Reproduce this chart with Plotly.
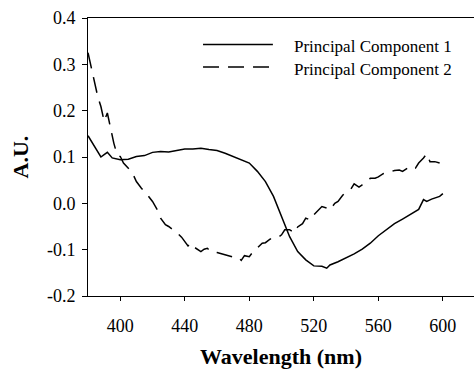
import plotly.graph_objects as go

# Principal Component 1 (solid)
pc1_wl = [380, 385, 388, 390, 392, 395, 400, 405, 410, 415, 420, 425, 430, 435, 440,
          445, 450, 455, 460, 465, 470, 475, 480, 485, 490, 495, 500, 503, 505, 510,
          515, 520, 525, 528, 530, 535, 540, 545, 550, 555, 560, 565, 570, 575, 580,
          585, 588, 590, 593, 595, 598, 600]
pc1_val = [0.146, 0.116, 0.100, 0.105, 0.110, 0.098, 0.094, 0.095, 0.101, 0.103, 0.110,
           0.112, 0.111, 0.114, 0.117, 0.117, 0.119, 0.116, 0.114, 0.108, 0.101, 0.095,
           0.087, 0.069, 0.047, 0.015, -0.028, -0.057, -0.072, -0.104, -0.122, -0.135,
           -0.136, -0.140, -0.133, -0.126, -0.118, -0.109, -0.099, -0.086, -0.070, -0.056,
           -0.044, -0.034, -0.023, -0.013, 0.008, 0.004, 0.009, 0.011, 0.015, 0.021]

# Principal Component 2 (dashed)
pc2_wl = [380, 383, 386, 388, 390, 392, 394, 396, 398, 400, 402, 405, 408, 410, 413,
          416, 420, 423, 425, 428, 430, 433, 435, 438, 440, 442, 444, 446, 450, 452,
          454, 456, 460, 465, 470, 473, 475, 477, 480, 482, 485, 488, 490, 493, 495,
          498, 500, 502, 505, 508, 510, 513, 515, 518, 520, 523, 525, 528, 530, 533,
          535, 538, 540, 543, 545, 548, 550, 553, 555, 558, 560, 563, 565, 568, 570,
          573, 575, 578, 580, 583, 585, 588, 590, 592, 595, 598]
pc2_val = [0.325, 0.274, 0.231, 0.209, 0.177, 0.195, 0.159, 0.130, 0.105, 0.101, 0.087,
           0.076, 0.062, 0.047, 0.033, 0.022, 0.004, -0.014, -0.032, -0.046, -0.050,
           -0.057, -0.063, -0.073, -0.082, -0.092, -0.086, -0.095, -0.104, -0.099,
           -0.097, -0.104, -0.106, -0.111, -0.116, -0.116, -0.123, -0.113, -0.115,
           -0.106, -0.095, -0.086, -0.085, -0.077, -0.077, -0.073, -0.068, -0.057,
           -0.057, -0.064, -0.051, -0.044, -0.032, -0.036, -0.025, -0.013, -0.007,
           -0.010, -0.014, 0.000, 0.004, 0.018, 0.023, 0.031, 0.042, 0.035, 0.040,
           0.047, 0.054, 0.054, 0.057, 0.064, 0.065, 0.069, 0.071, 0.072, 0.069,
           0.076, 0.080, 0.076, 0.087, 0.098, 0.107, 0.090, 0.090, 0.087]

x_ticks = [400, 440, 480, 520, 560, 600]
y_ticks = [-0.2, -0.1, 0.0, 0.1, 0.2, 0.3, 0.4]
y_tick_text = ["-0.2", "-0.1", "0.0", "0.1", "0.2", "0.3", "0.4"]
legend_names = ["Principal Component 1", "Principal Component 2"]

FONT = "Liberation Serif, Times New Roman, serif"

fig = go.Figure()
fig.add_trace(go.Scatter(x=pc1_wl, y=pc1_val, mode="lines", name=legend_names[0],
                         line=dict(color="black", width=1.5), showlegend=False))
fig.add_trace(go.Scatter(x=pc2_wl, y=pc2_val, mode="lines", name=legend_names[1],
                         line=dict(color="black", width=1.5, dash="16px,9px"),
                         showlegend=False))

# manual legend
legend_rows = [(0.905, "solid"), (0.824, "16px,9px")]
for (yy, dash), name in zip(legend_rows, legend_names):
    fig.add_shape(type="line", xref="paper", yref="paper", x0=0.298, x1=0.479,
                  y0=yy, y1=yy, line=dict(color="black", width=1.5, dash=dash))
    fig.add_annotation(xref="paper", yref="paper", x=0.528, y=yy - 0.008,
                       xanchor="left", yanchor="middle", text=name, showarrow=False,
                       font=dict(family=FONT, size=17, color="black"))

fig.update_layout(
    width=474, height=369,
    margin=dict(l=88, r=0, t=18, b=73),
    paper_bgcolor="white", plot_bgcolor="white",
    font=dict(family=FONT, color="black"),
    showlegend=False,
)
fig.update_xaxes(
    range=[380, 619.3], tickvals=x_ticks, ticks="outside", ticklen=4,
    tickcolor="black", showline=True, linecolor="black", linewidth=1,
    mirror=True, showgrid=False, zeroline=False, ticklabelstandoff=9,
    tickfont=dict(family=FONT, size=18, color="black"),
    title=dict(text="<b>Wavelength (nm)</b>", standoff=16,
               font=dict(family=FONT, size=22, color="black")),
)
fig.update_yaxes(
    range=[-0.2, 0.4], tickvals=y_ticks, ticktext=y_tick_text, ticks="outside",
    ticklen=5, tickcolor="black", showline=True, linecolor="black", linewidth=1,
    showgrid=False, zeroline=False, ticklabelstandoff=3,
    tickfont=dict(family=FONT, size=18, color="black"),
    title=dict(text="<b>A.U.</b>", standoff=12,
               font=dict(family=FONT, size=22, color="black")),
)

fig.write_html("out.html")
